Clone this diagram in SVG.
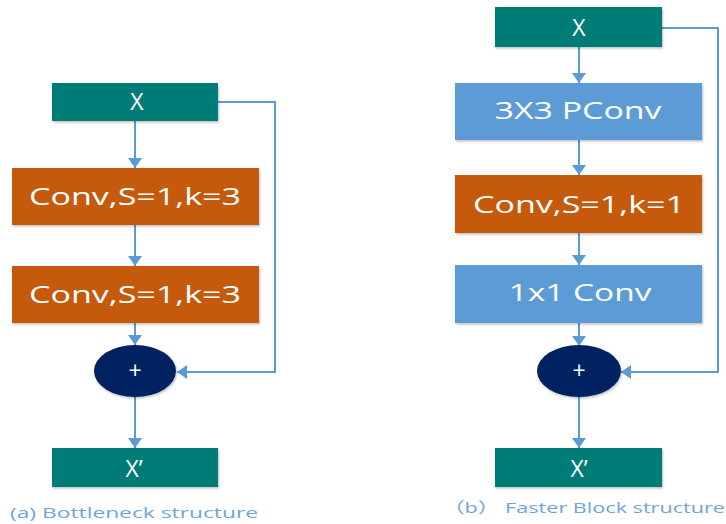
<svg xmlns="http://www.w3.org/2000/svg" width="726" height="524" viewBox="0 0 726 524">
<defs>
<marker id="ah" viewBox="0 0 10 14" refX="10" refY="7" markerWidth="5" markerHeight="7" orient="auto" markerUnits="strokeWidth">
<path d="M0,0 L10,7 L0,14 z" fill="#5B9BD5"/>
</marker>
<filter id="sh" x="-10%" y="-10%" width="120%" height="130%">
<feDropShadow dx="1" dy="1.5" stdDeviation="1" flood-color="#000" flood-opacity="0.25"/>
</filter>
</defs>
<style>
.teal{fill:#007B78;filter:url(#sh)}
.orange{fill:#C55A11;filter:url(#sh)}
.blue{fill:#5B9BD5;filter:url(#sh)}
.add{fill:#002060;filter:url(#sh)}
.lbl{font-family:"Open Sans","Noto Sans",sans-serif;fill:#fff;font-size:23px;text-anchor:middle}
.cap{font-family:"Open Sans","Noto Sans CJK SC",sans-serif;fill:#6FA6DA;font-size:15px}
.ln{fill:none;stroke:#5B9BD5;stroke-width:2;marker-end:url(#ah)}
</style>
<rect width="726" height="524" fill="#fff"/>
<g id="connectors">
<line class="ln" x1="135" y1="121" x2="135" y2="168"/>
<line class="ln" x1="135" y1="225" x2="135" y2="266"/>
<line class="ln" x1="135" y1="323" x2="135" y2="345"/>
<line class="ln" x1="135" y1="397" x2="135" y2="448"/>
<polyline class="ln" points="218,102 275,102 275,372 177,372"/>
<line class="ln" x1="579" y1="47" x2="579" y2="83"/>
<line class="ln" x1="579" y1="140" x2="579" y2="175"/>
<line class="ln" x1="579" y1="233" x2="579" y2="265"/>
<line class="ln" x1="579" y1="323" x2="579" y2="346"/>
<line class="ln" x1="579" y1="397" x2="579" y2="448"/>
<polyline class="ln" points="662,28 718,28 718,372 621,372"/>
</g>
<g id="a_x">
<rect class="teal" x="52" y="83" width="166" height="38"/>
<text class="lbl" x="137" y="110" font-size="24">X</text>
</g>
<g id="a_conv1">
<rect class="orange" x="12" y="168" width="247" height="57"/>
<text class="lbl" x="135" y="205" textLength="212" lengthAdjust="spacingAndGlyphs">Conv,S=1,k=3</text>
</g>
<g id="a_conv2">
<rect class="orange" x="12" y="266" width="247" height="57"/>
<text class="lbl" x="135" y="303" textLength="212" lengthAdjust="spacingAndGlyphs">Conv,S=1,k=3</text>
</g>
<g id="a_add">
<ellipse class="add" cx="135" cy="371" rx="41" ry="26"/>
<text class="lbl" x="135" y="379" font-size="22">+</text>
</g>
<g id="a_xout">
<rect class="teal" x="52" y="448" width="166" height="39"/>
<text class="lbl" x="134" y="477" font-size="24">X’</text>
</g>
<text class="cap" x="10" y="518" textLength="248" lengthAdjust="spacingAndGlyphs">(a) Bottleneck structure</text>
<g id="b_x">
<rect class="teal" x="495" y="7" width="167" height="40"/>
<text class="lbl" x="579" y="36" font-size="24">X</text>
</g>
<g id="b_pconv">
<rect class="blue" x="455" y="83" width="247" height="57"/>
<text class="lbl" x="578" y="119" textLength="167" lengthAdjust="spacingAndGlyphs">3X3 PConv</text>
</g>
<g id="b_conv">
<rect class="orange" x="455" y="175" width="247" height="58"/>
<text class="lbl" x="579" y="213" textLength="212" lengthAdjust="spacingAndGlyphs">Conv,S=1,k=1</text>
</g>
<g id="b_conv1x1">
<rect class="blue" x="455" y="265" width="247" height="58"/>
<text class="lbl" x="580" y="301" textLength="143" lengthAdjust="spacingAndGlyphs">1x1 Conv</text>
</g>
<g id="b_add">
<ellipse class="add" cx="579" cy="371" rx="42" ry="26"/>
<text class="lbl" x="579" y="379" font-size="22">+</text>
</g>
<g id="b_xout">
<rect class="teal" x="495" y="448" width="167" height="39"/>
<text class="lbl" x="579" y="477" font-size="24">X’</text>
</g>
<text class="cap" x="443" y="513" textLength="282" lengthAdjust="spacingAndGlyphs">（b） Faster Block structure</text>
</svg>
